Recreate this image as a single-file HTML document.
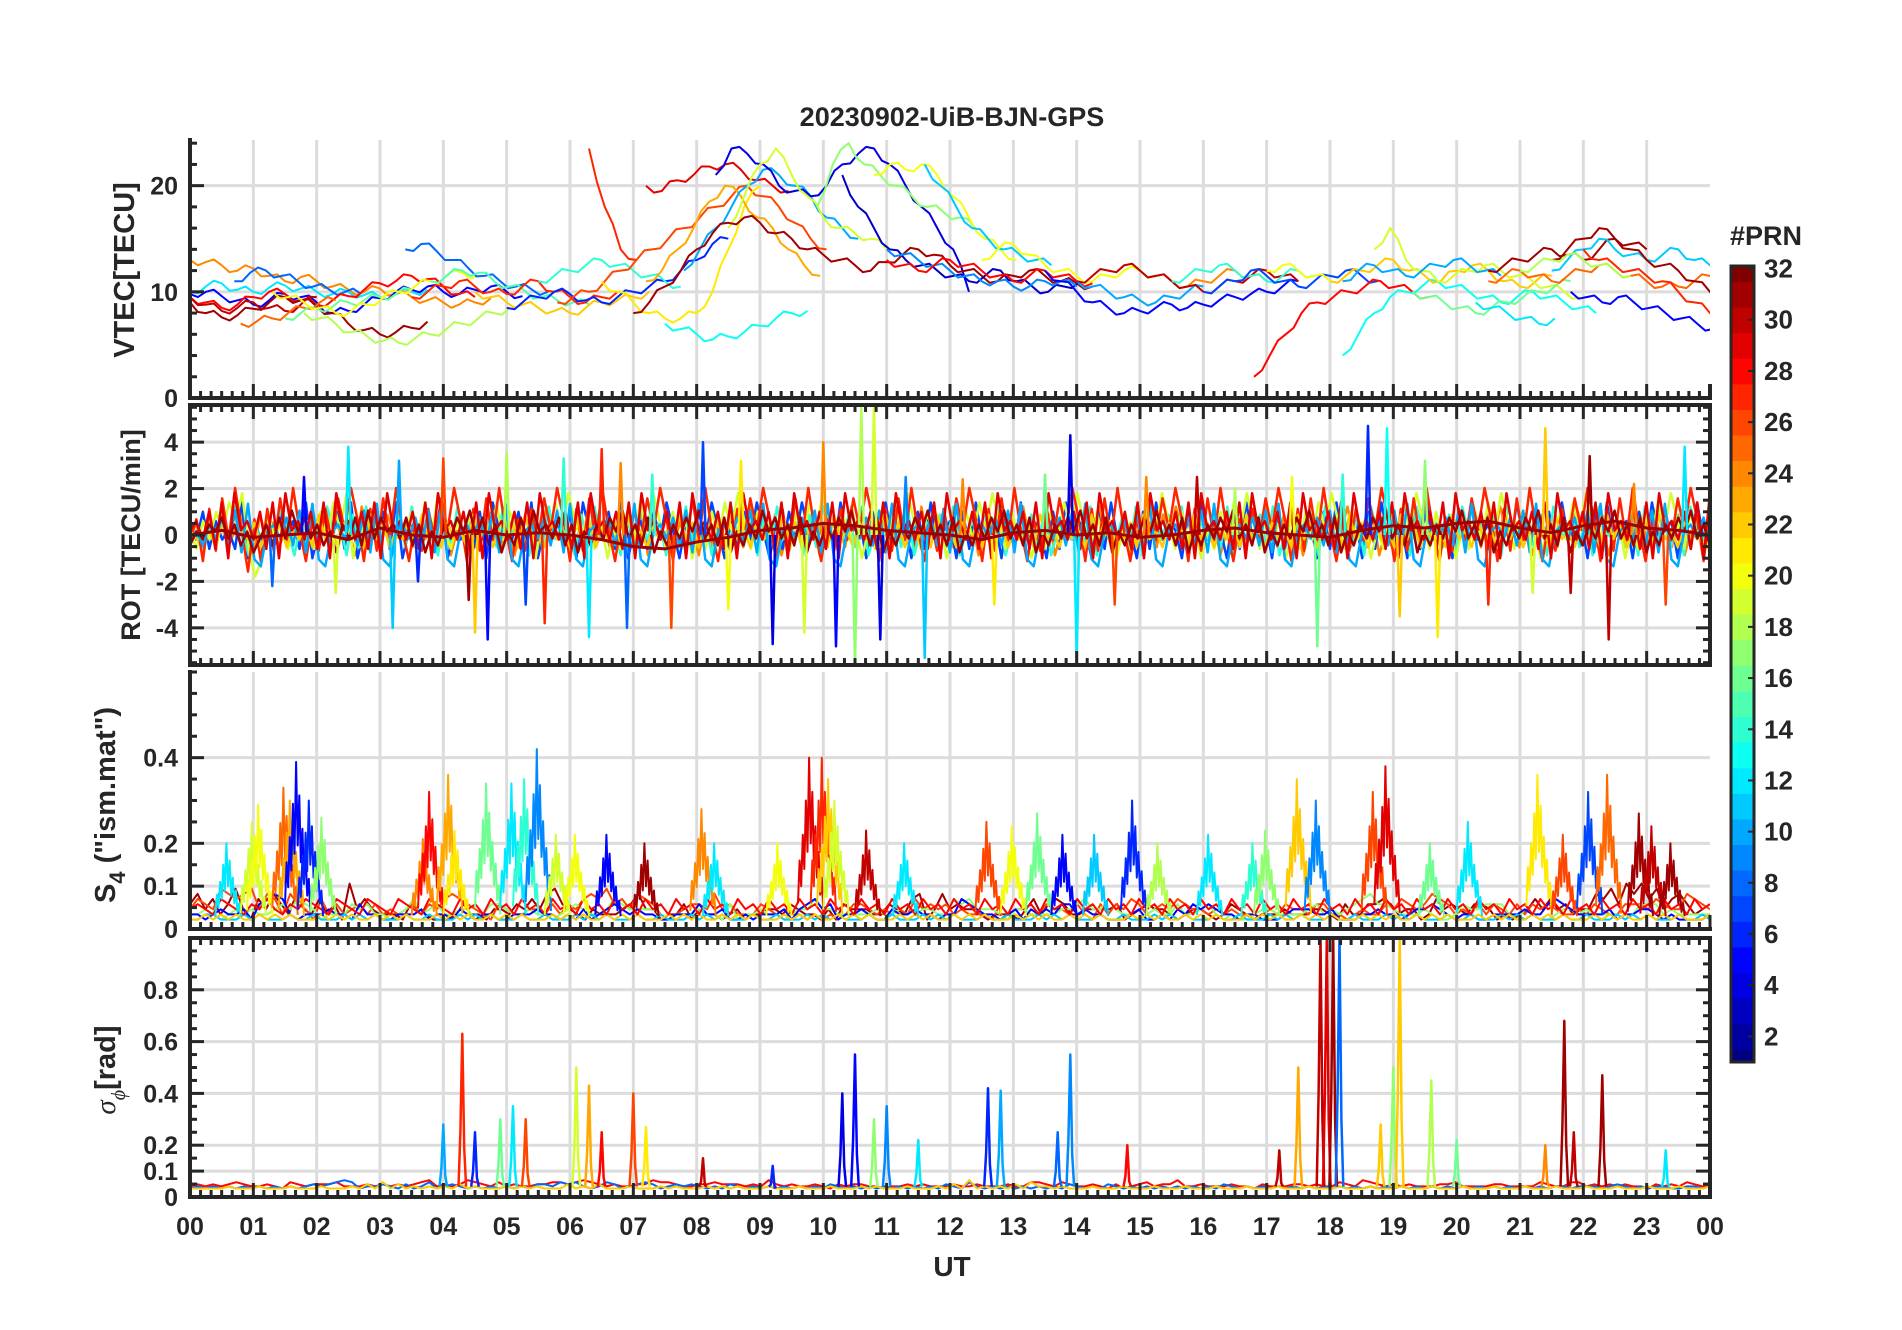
<!DOCTYPE html>
<html><head><meta charset="utf-8"><style>
html,body{margin:0;padding:0;background:#fff;}
svg{display:block;}
text{font-family:"Liberation Sans",Arial,sans-serif;font-weight:bold;fill:#262626;}
</style></head><body>
<svg id="chart" width="1902" height="1330" viewBox="0 0 1902 1330" xmlns="http://www.w3.org/2000/svg">
<rect width="1902" height="1330" fill="#fff"/>
<text x="952" y="126" font-size="27" text-anchor="middle">20230902-UiB-BJN-GPS</text>
<text transform="translate(134,270) rotate(-90)" font-size="29" text-anchor="middle">VTEC[TECU]</text>
<text transform="translate(140,535) rotate(-90)" font-size="27" text-anchor="middle">ROT [TECU/min]</text>
<text transform="translate(115,805) rotate(-90)" font-size="29" text-anchor="middle">S<tspan dy="10" font-size="22">4</tspan><tspan dy="-10"> ("ism.mat")</tspan></text>
<text transform="translate(115,1070) rotate(-90)" font-size="29" text-anchor="middle"><tspan font-style="italic" font-weight="normal" font-family="Liberation Serif, serif">σ</tspan><tspan dy="10" font-size="20" font-style="italic" font-weight="normal" font-family="Liberation Serif, serif">ϕ</tspan><tspan dy="-10">[rad]</tspan></text>
<text x="952" y="1276" font-size="28" text-anchor="middle">UT</text>
<text x="1730" y="245" font-size="27">#PRN</text>
<g id="layers"></g>
</svg>
<script>
// ---------------- data ----------------
const hourLabels = ["00","01","02","03","04","05","06","07","08","09","10","11","12","13","14","15","16","17","18","19","20","21","22","23","00"];
const vtecTicks = [0,10,20];
const rotTicks = [-4,-2,0,2,4];
const s4Ticks = [0,0.1,0.2,0.4];
const sigTicks = [0,0.1,0.2,0.4,0.6,0.8];
const cbTicks = [2,4,6,8,10,12,14,16,18,20,22,24,26,28,30,32];
// VTEC series: [prn, startHour, values every 0.25 h]
const vtecSeries = [
 [24,0,[13,12.8,12.5,12,12.2,11.5,11,11.4,11,10.5,10.2,10,10.3,9.8,9.5,9.2,9,8.8,9,9.4]],
 [12,0,[10,10.5,10.8,10.2,10,10.4,10.6,10.3,10,9.8,10,9.7,9.5,9.8,10,10.2]],
 [8,0.7,[11,11.8,12,11.5,11,10.5,10.2,10,9.8]],
 [5,0,[9.8,10,9.6,9.2,8.8,9.2,9.8,9.5,9,8,8.2,8.8,9.4,10,10.2,10.5,10,9.8,10.2,10.5,10,9.6]],
 [28,0,[9.5,9,8.5,8.8,9.5,10,9.8,9.2,8.8,9.2,9.6,10.2,10.8,11,11.5,11.2,10.5,9.8,9.5]],
 [31,0,[9,8,7.6,7.8,8.4,9,9.5,9.2,8.6,8,7,6.4,6,6.2,6.6,7.2]],
 [30,0,[9.5,8.8,8.2,8.5,9,8.5,8.2,8.8,9.5]],
 [25,0.8,[7,7.2,7.5,8,8.5,9,9.2]],
 [16,1.5,[7.5,8,8.4,8.6,9,9.2,9.5,9.8,10.2]],
 [18,1.8,[8,7.5,7,6.2,5.8,5.4,5.2,5.6,6,6.5,7,7.5,8,8.5]],
 [20,1.3,[10,9.5,9,8.5,8,8.2,8.8,9.5,10,10.5,11,11.5,11.8,11.5]],
 [8,3.4,[14,14.5,13.8,13,12.2,11.5,11,10.5,10.2,10]],
 [15,3.8,[11,11.5,12,11.8,11,10.5,10,9.5,9.2,9,8.8]],
 [27,3.5,[9.5,10,10.5,11,10.5,10,9.8,10.5,11,10,9.5,9,9.5,10]],
 [22,4.5,[10,9.5,9,8.8,8.5,8.2,8,8.5,9,9.2,9.5,10]],
 [6,5,[8.5,9,9.5,10,9.8,9.2,9,9.5,10,10.5,11,12,13,14.5,15]],
 [14,5.5,[11,11.5,12,12.5,13,12.5,12,11.5,11,10.5]],
 [27,6.3,[23.5,18,14,13]],
 [26,5.8,[9,9.5,10,11,12,13,14,15,16,17,18,19,20,19,18,16.5,15,14]],
 [21,6.5,[11,10,9,8,7.5,7.5,8,10,14,18,20]],
 [29,7.2,[20,19.5,20.5,21,21.8,22,21.5,20.5,20,19.5]],
 [23,7.2,[11,12,14,16,18.5,20,19,17,16,14,12.5,11.5]],
 [13,7.5,[7,6.5,6,5.5,5.8,6.2,6.8,7.5,8,8.2]],
 [10,7.8,[12,14,16,18,20,21.5,21,20,19,17,16,15]],
 [4,8.3,[21,23.5,23,22,20,19.5,19,20,22,23,23.5,22,20,18,16,14,10]],
 [19,8.5,[16,19,22,23.5,21,19,17,16,15.5,15,14]],
 [31,7,[8,9,10.5,12,14,15.5,16.5,17,16.5,15.5,15,14,13.5,13,12.5,12,12.8,13.5,14,13.5,12.5,12,11.5,11,11.5,12,11.5,11,10.8,10.5]],
 [17,9.9,[18,22,24,22,21,20,19,18,17.5,17,16]],
 [20,10.8,[21,22,21.5,22,21,19,17,15,14,13]],
 [11,11.6,[22,20,18,16,15,14,13.5,13,12.5]],
 [3,10.3,[21,18,16,14,13,12.5,12,11.5,11,11.5,12,11,10.5,10,10.5,11]],
 [9,11,[14,13.5,13,12.5,12,11.5,11,11,10.5,10.5,11,11,10.5]],
 [28,11,[13,12.5,12,12.5,13,12.5,12,11.5,11,11.5,12,11.5,11,10.8]],
 [20,12.5,[13,14,14.5,13.5,12.5,12,11.5,11,11.5,12,12,11.5]],
 [5,13.5,[12,11,10,9,8.5,8,8.2,8.5,8.8,8.5,8.8,9.2,9.5,9.8,10,10.5,11]],
 [10,14,[11,10.5,10,9.5,9.2,9,9.5,10,10.5]],
 [24,14.5,[12,12.5,12,11.5,11,10.5,11,11.5,12,11.5,11]],
 [30,14,[11,11.5,12,12.5,12,11.5,11,10.5,10,10.5,11,11.5,12,11.5,11]],
 [14,15.5,[11,11.5,12,12.5,12,11.5,11,11.5,12,11.5]],
 [7,16,[10,10.5,11,12,11.5,11,10.5,11,11.5,12,11.5,11]],
 [28,16.8,[2,4,6,8,9,9.5,10,10.5,11,10.5,10,9.5]],
 [20,17,[12,12.5,12,11.5,11,11.5,12]],
 [13,18.2,[4,6,8,9.5,10,10.5,11,10.5,10,9.5,9,9.5,10,9.5,9,8.5,8]],
 [22,18,[11,11.5,12,12.5,13,12,11.5,11,12,12.5,12,11,10.5,11,11.5]],
 [19,18.7,[14,16,13,12,11,11.5,12,12.5,12,11.5,11,10.5,10,9.5]],
 [10,18.2,[11,12,12.5,12,11.5,12,12.5,13,12.5,12,11.5]],
 [16,19.3,[10,9.5,9,8.5,8,8.5,9,9.5,10,10.5,11]],
 [12,20.3,[9,8.5,8,7.5,7,7.5]],
 [31,20.5,[12,12.5,13,13.5,14,13.5,13,14,15,14.5,14]],
 [25,20.5,[11,11.5,12,11.5,11,11.5,12,12.5,12,11.5,11,10.5,10.5,11,11.5,12,13,14,15,16,14,13,12,11,10]],
 [5,21.8,[10,9.5,9,9.5,9,8.5,8,7.5,7,6.5,6,5.5]],
 [11,21.5,[12,13,14,15,14,13.5,13,13.5,14,13,12.5,12,11.5,11]],
 [31,21.5,[13,14,15,16,15,14,13,12.5,12,11,10,9,8,7,6.5,6]],
 [27,22,[14,13,12.5,12,11.5,11,10,9,8,7,6.5,6,5.8]],
 [18,21,[12,12.5,13,13.5,13,12.5,12,11.5]]
];
// ROT noise series: [prn, scale, digit string (0-9 centred on 4.5) over 24 h]
const rotSeries = [
 [24,0.35,"463546357427463546354736452846375463546372546354637254638546372546354637254836452637465384637254637254638465372546384756374625364758463725463758463725463748563746253647586374625364758463725364758463725463748563725463748563725463748563725463"],
 [7,0.4,"547364538264537463825647382564738256473825463728564738254637285647382563748526374852637485263748562738456273845627384562738456273846527384652738465273846527384652738456273845627384562738456273845627384562738456273845627384562738456273845"],
 [14,0.35,"452637485263748526374856273845627384562738465273846527384652738456273845627384562738456273845627385647382564738256473825647382564738256473825647382564738256473825647382546372854637285463728546372854637285463728546372854637285463728546"],
 [19,0.4,"536475869302746354637485926374635473849536475638475362748596473625374859637462537485963746253748596374625374859637462537485963746253748596374625374859637462537485963746253748596374625374859637462537485963746253748596374625374859637462"],
 [27,0.45,"462738495162738495263748596273849526374859627384952637485962738495263748596273849526374859627384952637485962738495263748596273849526374859627384952637485962738495263748596273849526374859627384952637485962738495263748596273849526374859627"],
 [22,0.35,"544536475463546354637453645374635463745364537463546374536453746354637453645374635463745364537463546374536453746354637453645374635463745364537463546374536453746354637453645374635463745364537463546374536453746354637453645374635463745364537"],
 [10,0.3,"453647382910564738291056473829105647382910564738291056473829105647382910564738291056473829105647382910564738291056473829105647382910564738291056473829105647382910564738291056473829105647382910564738291056473829105647382910564738291056473"],
 [29,0.4,"564738295647382956473829564738295647382956473829564738295647382956473829564738295647382956473829564738295647382956473829564738295647382956473829564738295647382956473829564738295647382956473829564738295647382956473829564738295647382956473829"],
 [31,0.3,"354657463524637485746352647384756473625364758473625374856473625364758463725364758463725364857463725364758463725364758463725364758463725364758463725364758463725364758463725364758463725364758463725364758463725364758463725364758463725364758463"]
];
// ROT smooth dark-red PRN 31 line (every 0.5 h)
const rotPrn31 = [0,0.2,-0.1,0,0.1,-0.2,0.3,0,-0.1,0.2,0,0.1,0,-0.2,-0.5,-0.6,-0.3,-0.1,0.2,0.3,0.5,0.4,0.2,0.1,0,-0.2,0.1,0.2,0,0.1,-0.1,0,0.2,0.3,0.1,0,-0.1,0.2,0.4,0.3,0.5,0.6,0.3,0.1,0.4,0.6,0.3,0.2,0];
// ROT spikes: [hour, value, prn]
const rotSpikes = [[1.3,-2.2,8],[1.8,2.5,5],[2.3,-2.5,19],[2.5,3.8,12],[3.2,-4,11],[3.3,3.2,10],[3.6,-2,6],[4.0,3.3,26],[4.4,-2.8,31],[4.5,-4.2,22],[4.7,-4.5,5],[5.0,3.5,18],[5.3,-3,7],[5.6,-3.8,27],[5.9,3.3,14],[6.3,-4.4,12],[6.5,3.7,27],[6.8,3.1,24],[6.9,-4,8],[7.3,2.6,14],[7.6,-4,26],[8.1,4,7],[8.5,-3.2,20],[8.7,3.2,21],[9.2,-4.7,4],[9.7,-4.2,19],[10.0,4,24],[10.2,-4.8,5],[10.5,-5.6,17],[10.6,5.5,18],[10.8,5.6,19],[10.9,-4.5,4],[11.3,2.5,9],[11.6,-5.3,11],[12.2,2.4,24],[12.7,-3,21],[13.5,2.6,16],[13.9,4.3,4],[14.0,-5.3,12],[14.6,-3,26],[15.1,2.5,24],[15.9,2.5,30],[16.5,2,18],[17.4,2.5,20],[17.8,-4.8,16],[18.2,2.6,14],[18.6,4.7,6],[18.9,4.6,13],[19.1,-3.5,22],[19.5,3.2,17],[19.7,-4.4,21],[20.5,-3,27],[21.2,-2.5,19],[21.4,4.6,22],[21.8,-2.5,30],[22.1,3.4,31],[22.4,-4.5,30],[22.8,2.2,24],[23.3,-3,26],[23.6,3.8,12]];
// S4 baseline series: [prn, digit string over 24 h, value = 0.01 + d*0.012]
const s4Series = [
 [31,"463524731536426325241835322214321112422133243536743213222346331224132212312233243221314333224325613634332122213524542233334123433212332124321222322233214224454233125343244312123535342336574868573564234"],
 [26,"354376567365264315242342423234243565432143223324243565745365421234436342224323221212124432323253434232221423342433242142435423435433232322123243324422123224354346542324243242434322324322444354336543"],
 [17,"223212323223435431222434221235234223312443223221234322354333321222322141223221233533222223223423322545333213322223345335322123224223421211233222234232345644322232112433444213211233232222124442322222"],
 [5,"221232231456521222322142211222312213212211222322121312343232211222422311212223134534122321132232212254322123132324423221112311213243432212211123332231112232212334321221122223224543222231223321211112"],
 [11,"112211121211121121112121211121121112121211121121112121211121121112121211121121112121211121121112121211121121112121211121121112121211121121112121211121121112121211121121112121211121121112121211121121"],
 [22,"112121211212121112121211212121112121211212121112121211212121112121211212121112121211212121112121211212121112121211212121112121211212121112121211212121112121211212121112121211212121112121211212121112"],
 [28,"343254324353243543254325432543254325342534253425342534253425342534253425342534253425342534253425342534253425342534253425342534253425342534253425342534253425342534253425342534253425342534253425342534"]
];
// S4 spike clusters: [hour, value, prn]
const s4Spikes = [[0.6,0.2,12],[1.0,0.25,19],[1.1,0.29,20],[1.5,0.33,25],[1.6,0.3,23],[1.7,0.39,5],[1.9,0.3,6],[2.1,0.26,17],[3.7,0.21,24],[3.8,0.32,28],[4.1,0.36,23],[4.2,0.23,21],[4.7,0.34,16],[5.1,0.34,12],[5.3,0.35,14],[5.5,0.42,9],[5.8,0.22,19],[6.1,0.22,20],[6.6,0.22,5],[7.2,0.2,31],[8.1,0.28,24],[8.3,0.2,12],[9.3,0.2,20],[9.8,0.4,29],[10.0,0.4,27],[10.1,0.35,22],[10.2,0.3,19],[10.7,0.23,30],[11.3,0.2,12],[12.6,0.25,26],[13.0,0.24,20],[13.4,0.27,16],[13.8,0.22,5],[14.3,0.22,11],[14.9,0.3,6],[15.3,0.2,18],[16.1,0.22,12],[16.8,0.2,14],[17.0,0.23,17],[17.5,0.35,22],[17.8,0.3,9],[18.7,0.32,26],[18.9,0.38,29],[19.6,0.2,16],[20.2,0.25,12],[21.3,0.36,21],[21.7,0.22,26],[22.1,0.32,7],[22.4,0.36,25],[22.9,0.27,31],[23.1,0.24,30],[23.4,0.2,31]];
// Sigma-phi baseline series: [prn, digit string, value = 0.025 + d*0.008]
const sigSeries = [
 [28,"232323432232143233342223232323452323543242322334434543232233544322334333232532322321323322122323222322322232244324322321312342335223222322132223323224325432323222334222233222243224423232322132324322"],
 [8,"121212121212121232345412232131241232121212121332434212431234312323212132121212121213212121212121213214212121212121321213212121212121213212121212121212121212121212121212121212121221222123212122112212"],
 [22,"111112111211121112111213141312121213121112121211131213111211121211121212111211121112111212111211121315121213142212111211121112111211121112111211121112111211121112111211121112111211121112111211121112"]
];
// Sigma-phi spikes: [hour, value, prn]
const sigSpikes = [[4.0,0.28,10],[4.3,0.63,27],[4.5,0.25,6],[4.9,0.3,16],[5.1,0.35,12],[5.3,0.3,26],[6.1,0.5,19],[6.3,0.43,23],[6.5,0.25,28],[7.0,0.4,26],[7.2,0.27,21],[8.1,0.15,30],[9.2,0.12,6],[10.3,0.4,4],[10.5,0.55,5],[10.8,0.3,17],[11.0,0.35,9],[11.5,0.22,12],[12.6,0.42,6],[12.8,0.41,10],[13.7,0.25,8],[13.9,0.55,9],[14.8,0.2,28],[17.2,0.18,30],[17.5,0.5,23],[17.85,1.0,30],[17.95,1.0,29],[18.05,1.0,31],[18.15,1.0,8],[18.8,0.28,22],[19.0,0.5,17],[19.1,1.0,22],[19.6,0.45,18],[20.0,0.22,16],[21.4,0.2,24],[21.7,0.68,31],[21.85,0.25,30],[22.3,0.47,31],[23.3,0.18,12]];

// ---------------- layout ----------------
const X0=190, X1=1710;
const P=[
 {name:"vtec",top:140,bot:398,min:0,max:24.3},
 {name:"rot",top:405,bot:665,min:-5.6,max:5.6},
 {name:"s4",top:672,bot:929,min:0,max:0.6},
 {name:"sigma",top:938,bot:1197,min:0,max:1.0}
];
const NS="http://www.w3.org/2000/svg";
const layers=document.getElementById('layers');
function el(tag,attrs,parent){const e=document.createElementNS(NS,tag);for(const k in attrs)e.setAttribute(k,attrs[k]);(parent||layers).appendChild(e);return e;}
function xs(h){return X0+(X1-X0)*h/24;}
function ys(p,v){v=Math.max(p.min,Math.min(p.max,v));return p.bot-(p.bot-p.top)*(v-p.min)/(p.max-p.min);}
function jet(prn){const t=(prn-1)/31;const c=x=>Math.round(255*Math.max(0,Math.min(1,x)));return `rgb(${c(1.5-Math.abs(4*t-3))},${c(1.5-Math.abs(4*t-2))},${c(1.5-Math.abs(4*t-1))})`;}
const AX="#262626";

// grids
P.forEach((p,i)=>{
 const g=el('g',{});
 
 
 for(let h=1;h<24;h++){el('line',{x1:xs(h),x2:xs(h),y1:p.top,y2:p.bot,stroke:"#dcdcdc","stroke-width":3},g);}
 const ticks=[vtecTicks,rotTicks,s4Ticks,sigTicks][i];
 ticks.forEach(t=>{if(t!==p.min){el('line',{x1:X0,x2:X1,y1:ys(p,t),y2:ys(p,t),stroke:"#dcdcdc","stroke-width":3},g);}});
});

function polyline(p,pts,prn,w,parent){
 const d=pts.map((q,k)=>(k?'L':'M')+q[0].toFixed(1)+' '+q[1].toFixed(1)).join('');
 return el('path',{d:d,fill:"none",stroke:jet(prn),"stroke-width":w,"stroke-linejoin":"round"},parent);
}
function clip(p,id){const c=el('clipPath',{id:id});el('rect',{x:X0,y:p.top,width:X1-X0,height:p.bot-p.top},c);return `url(#${id})`;}

// VTEC
{const p=P[0];const g=el('g',{"clip-path":clip(p,'c0')});
 
 
 vtecSeries.forEach(s=>{const pts=[];s[2].forEach((v,k)=>{pts.push([xs(s[1]+k*0.25),ys(p,v)]);
   if(k<s[2].length-1){const m=(v+s[2][k+1])/2+((k%2)?0.4:-0.4);pts.push([xs(s[1]+k*0.25+0.125),ys(p,m)]);}});
  const e=polyline(p,pts,s[0],2,g);
  
  });}
// ROT
{const p=P[1];const g=el('g',{"clip-path":clip(p,'c1')});
 
 
 rotSeries.forEach(s=>{const str=s[2];const n=str.length;const pts=[];for(let k=0;k<n;k++){pts.push([xs(24*k/(n-1)),ys(p,(+str[k]-4.5)*s[1])]);}
  const e=polyline(p,pts,s[0],2.5,g);
  
  });
 rotSpikes.forEach(s=>{const e=polyline(p,[[xs(s[0]-0.04),ys(p,0)],[xs(s[0]),ys(p,s[1])],[xs(s[0]+0.04),ys(p,0)]],s[2],2.5,g);
  
  });
 const e=polyline(p,rotPrn31.map((v,k)=>[xs(k*0.5),ys(p,v)]),31,3,g);
 
 }
// S4
{const p=P[2];const g=el('g',{"clip-path":clip(p,'c2')});
 
 
 s4Series.forEach(s=>{const str=s[1];const n=str.length;const pts=[];for(let k=0;k<n;k++){pts.push([xs(24*k/(n-1)),ys(p,0.01+(+str[k])*0.012)]);}
  const e=polyline(p,pts,s[0],2,g);
  
  });
 const shape=[0.15,0.4,0.25,0.55,0.35,0.75,0.45,1,0.5,0.8,0.4,0.6,0.3,0.45,0.2,0.3,0.1];
 s4Spikes.forEach(s=>{const v=s[1];const pts=shape.map((f,k)=>[xs(s[0]-0.2+0.4*k/(shape.length-1)),ys(p,Math.max(0.03,v*f))]);
  const e=polyline(p,pts,s[2],2,g);
  
  });}
// Sigma
{const p=P[3];const g=el('g',{"clip-path":clip(p,'c3')});
 
 
 sigSeries.forEach(s=>{const str=s[1];const n=str.length;const pts=[];for(let k=0;k<n;k++){pts.push([xs(24*k/(n-1)),ys(p,0.025+(+str[k])*0.008)]);}
  const e=polyline(p,pts,s[0],2,g);
  
  });
 sigSpikes.forEach(s=>{const e=polyline(p,[[xs(s[0]-0.06),ys(p,0.04)],[xs(s[0]-0.03),ys(p,s[1]*0.4)],[xs(s[0]),ys(p,s[1])],[xs(s[0]+0.03),ys(p,s[1]*0.3)],[xs(s[0]+0.06),ys(p,0.04)]],s[2],2.5,g);
  
  });}

// axes
P.forEach((p,i)=>{
 const g=el('g',{stroke:AX,"stroke-width":4,fill:"none"});
 
 
 const full=(i===1||i===3);
 el('line',{x1:X0,x2:X0,y1:p.top-2,y2:p.bot+2},g);
 el('line',{x1:X0-2,x2:X1+2,y1:p.bot,y2:p.bot},g);
 if(full){el('line',{x1:X1,x2:X1,y1:p.top-2,y2:p.bot+2},g);el('line',{x1:X0-2,x2:X1+2,y1:p.top,y2:p.top},g);}
 if(i===0){el('line',{x1:X1,x2:X1,y1:p.bot-14,y2:p.bot},g);}
 for(let m=0;m<=144;m++){const x=xs(m/6);const L=(m%6===0)?14:7;
  el('line',{x1:x,x2:x,y1:p.bot,y2:p.bot-L,"stroke-width":3},g);
  if(full) el('line',{x1:x,x2:x,y1:p.top,y2:p.top+L,"stroke-width":3},g);}
 const ticks=[vtecTicks,rotTicks,s4Ticks,sigTicks][i];
 const minorStep=[2,0.5,0.05,0.05][i];
 for(let v=p.min;v<=p.max+1e-9;v+=minorStep){const vv=Math.round(v/minorStep)*minorStep;const y=ys(p,vv);
  const major=ticks.some(t=>Math.abs(t-vv)<1e-6);const L=major?14:7;
  el('line',{x1:X0,x2:X0+L,y1:y,y2:y,"stroke-width":3},g);
  if(full) el('line',{x1:X1,x2:X1-L,y1:y,y2:y,"stroke-width":3},g);}
 ticks.forEach(t=>{const tx=el('text',{x:X0-12,y:ys(p,t)+9,"font-size":25,"text-anchor":"end",stroke:"none"},layers);tx.textContent=String(t);
  
  });
});
// x tick labels
hourLabels.forEach((h,k)=>{const t=el('text',{x:xs(k),y:1235,"font-size":25,"text-anchor":"middle"});t.textContent=h;
 
 });
// colorbar
{const g=el('g',{});
 
 
 const cx=1731,cw=23,ct=266,cb=1062,cmin=1,cmax=32.1;
 const cy=v=>cb-(cb-ct)*(v-cmin)/(cmax-cmin);
 for(let k=1;k<=32;k++){const yT=cy(Math.min(cmax,k+0.5)),yB=cy(Math.max(cmin,k-0.5));
  el('rect',{x:cx,y:Math.min(yT,yB),width:cw,height:Math.abs(yB-yT)+0.6,fill:jet(k)},g);}
 el('rect',{x:cx,y:ct,width:cw,height:cb-ct,fill:"none",stroke:AX,"stroke-width":3},g);
 cbTicks.forEach(t=>{el('line',{x1:cx+cw-6,x2:cx+cw,y1:cy(t),y2:cy(t),stroke:AX,"stroke-width":2},g);
  const tx=el('text',{x:1764,y:cy(t)+9,"font-size":26},g);tx.textContent=String(t);
  
  });}
</script>
</body></html>
